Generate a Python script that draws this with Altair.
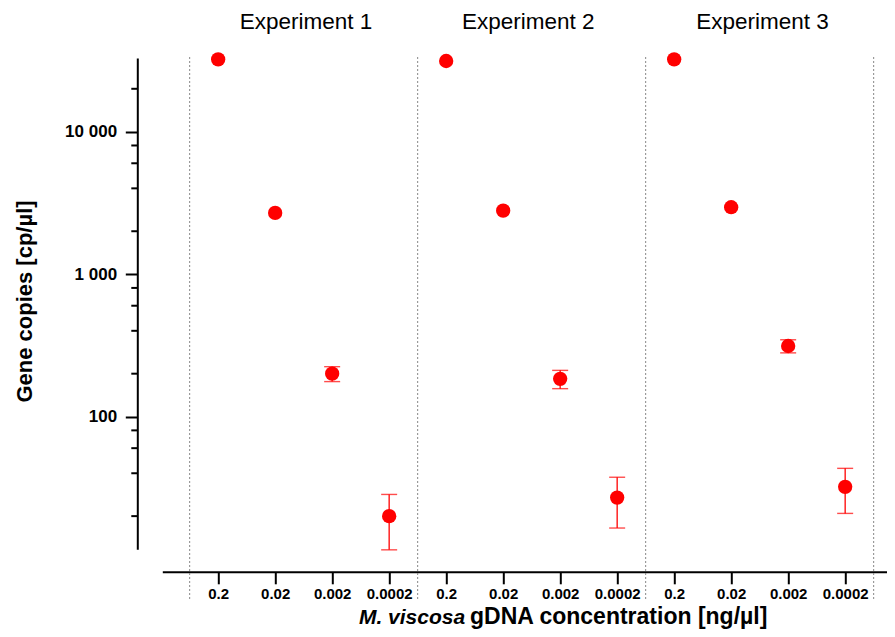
import json
import altair as alt
import pandas as pd

# ---- data ----
concentrations = ["0.2", "0.02", "0.002", "0.0002"]
experiments = ["Experiment 1", "Experiment 2", "Experiment 3"]
exp1_mean = [32200, 2690, 200, 20.0]
exp1_sd = [0, 0, 24, 8.4]
exp2_mean = [31350, 2790, 184, 27.0]
exp2_sd = [0, 0, 27, 10.5]
exp3_mean = [32200, 2950, 313, 32.1]
exp3_sd = [0, 0, 33, 11.2]
y_ticks = [100, 1000, 10000]
y_minor_ticks = [20, 40, 60, 80, 200, 400, 600, 800, 2000, 4000, 6000, 8000, 20000]
separators = [-0.5, 3.5, 7.5, 11.5]
title_positions = [1.54, 5.44, 9.55]

FONT = "Liberation Sans, Arial, Helvetica, sans-serif"
RED = "#ff0000"

rows = []
for e, (means, sds) in enumerate(zip([exp1_mean, exp2_mean, exp3_mean],
                                     [exp1_sd, exp2_sd, exp3_sd])):
    for c, (m, s) in enumerate(zip(means, sds)):
        rows.append({"experiment": experiments[e], "conc": concentrations[c],
                     "pos": e * 4 + c, "mean": m, "lo": m - s, "hi": m + s, "sd": s})
df = pd.DataFrame(rows)
sep_df = pd.DataFrame({"pos": separators})
title_df = pd.DataFrame({"pos": title_positions, "label": experiments})
minor_df = pd.DataFrame({"v": y_minor_ticks})

PAD_L = 154.3
PAD_T = 50
W = 724.7
H = 491.3
TOTAL_W = 879
TOTAL_H = 621

xs = alt.Scale(domain=[-0.98, 11.734], nice=False, zero=False)
ys = alt.Scale(type="log", domain=[11.7, 32900], nice=False)

x_axis = alt.Axis(
    values=list(range(12)),
    labelExpr=f"{json.dumps(concentrations)}[datum.value % 4]",
    title=None, grid=False, offset=22.5,
    tickSize=12, tickWidth=2, tickColor="black",
    domainWidth=2, domainColor="black",
    labelFont=FONT, labelFontSize=15, labelFontWeight="bold", labelColor="black",
    labelPadding=3, labelAngle=0, labelOverlap=False, labelFlush=False,
)
y_axis = alt.Axis(
    values=y_ticks,
    labelExpr="replace(format(datum.value, ','), ',', ' ')",
    title="Gene copies [cp/µl]",
    titleFont=FONT, titleFontSize=22, titleFontWeight="bold", titleColor="black",
    titleX=-105.7, titleY=243, titleAngle=270, titleAlign="center",
    titleBaseline="alphabetic",
    grid=False, offset=25,
    tickSize=12, tickWidth=2, tickColor="black",
    domainWidth=2, domainColor="black",
    labelFont=FONT, labelFontSize=17, labelFontWeight="bold", labelColor="black",
    labelPadding=8.7, labelOverlap=False, labelFlush=False,
)

X = alt.X("pos:Q", scale=xs, axis=x_axis)

seps = alt.Chart(sep_df).mark_rule(
    color="#888888", strokeWidth=1, strokeDash=[2, 2]
).encode(x=X, y=alt.value(-1), y2=alt.value(H + 51))

minor = alt.Chart(minor_df).mark_rule(color="black", strokeWidth=2).encode(
    y=alt.Y("v:Q", scale=ys, axis=y_axis),
    x=alt.value(-25 - 6), x2=alt.value(-25),
)

err_base = alt.Chart(df).transform_filter("datum.sd > 0")
err_line = err_base.mark_rule(color=RED, strokeWidth=1.3).encode(
    x=X, y=alt.Y("lo:Q", scale=ys, axis=y_axis), y2="hi:Q"
)
cap_lo = err_base.mark_tick(orient="horizontal", size=16, thickness=1.4, color=RED).encode(
    x=X, y=alt.Y("lo:Q", scale=ys, axis=y_axis)
)
cap_hi = err_base.mark_tick(orient="horizontal", size=16, thickness=1.4, color=RED).encode(
    x=X, y=alt.Y("hi:Q", scale=ys, axis=y_axis)
)

points = alt.Chart(df).mark_point(
    filled=True, shape="circle", size=205, color=RED, opacity=1, strokeWidth=0
).encode(x=X, y=alt.Y("mean:Q", scale=ys, axis=y_axis))

titles = alt.Chart(title_df).mark_text(
    font=FONT, fontSize=22.5, color="black", align="center", baseline="alphabetic"
).encode(x=X, y=alt.value(-29.3), text="label:N")

xt1 = alt.Chart(pd.DataFrame({"t": ["M. viscosa"]})).mark_text(
    font=FONT, fontSize=21, fontWeight="bold", fontStyle="italic", color="black",
    align="left", baseline="alphabetic"
).encode(x=alt.value(196.6), y=alt.value(566), text="t:N")
xt2 = alt.Chart(pd.DataFrame({"t": ["gDNA concentration [ng/µl]"]})).mark_text(
    font=FONT, fontSize=23, fontWeight="bold", color="black",
    align="left", baseline="alphabetic"
).encode(x=alt.value(307.7), y=alt.value(566), text="t:N")

chart = alt.layer(seps, minor, err_line, cap_lo, cap_hi, points, titles, xt1, xt2).properties(
    width=W, height=H,
    autosize=alt.AutoSizeParams(type="none"),
    padding={"left": PAD_L, "top": PAD_T,
             "right": TOTAL_W - PAD_L - W, "bottom": TOTAL_H - PAD_T - H},
    background="white",
).configure_view(stroke=None)

chart.save("out.html", embed_options={"renderer": "svg", "actions": False})
